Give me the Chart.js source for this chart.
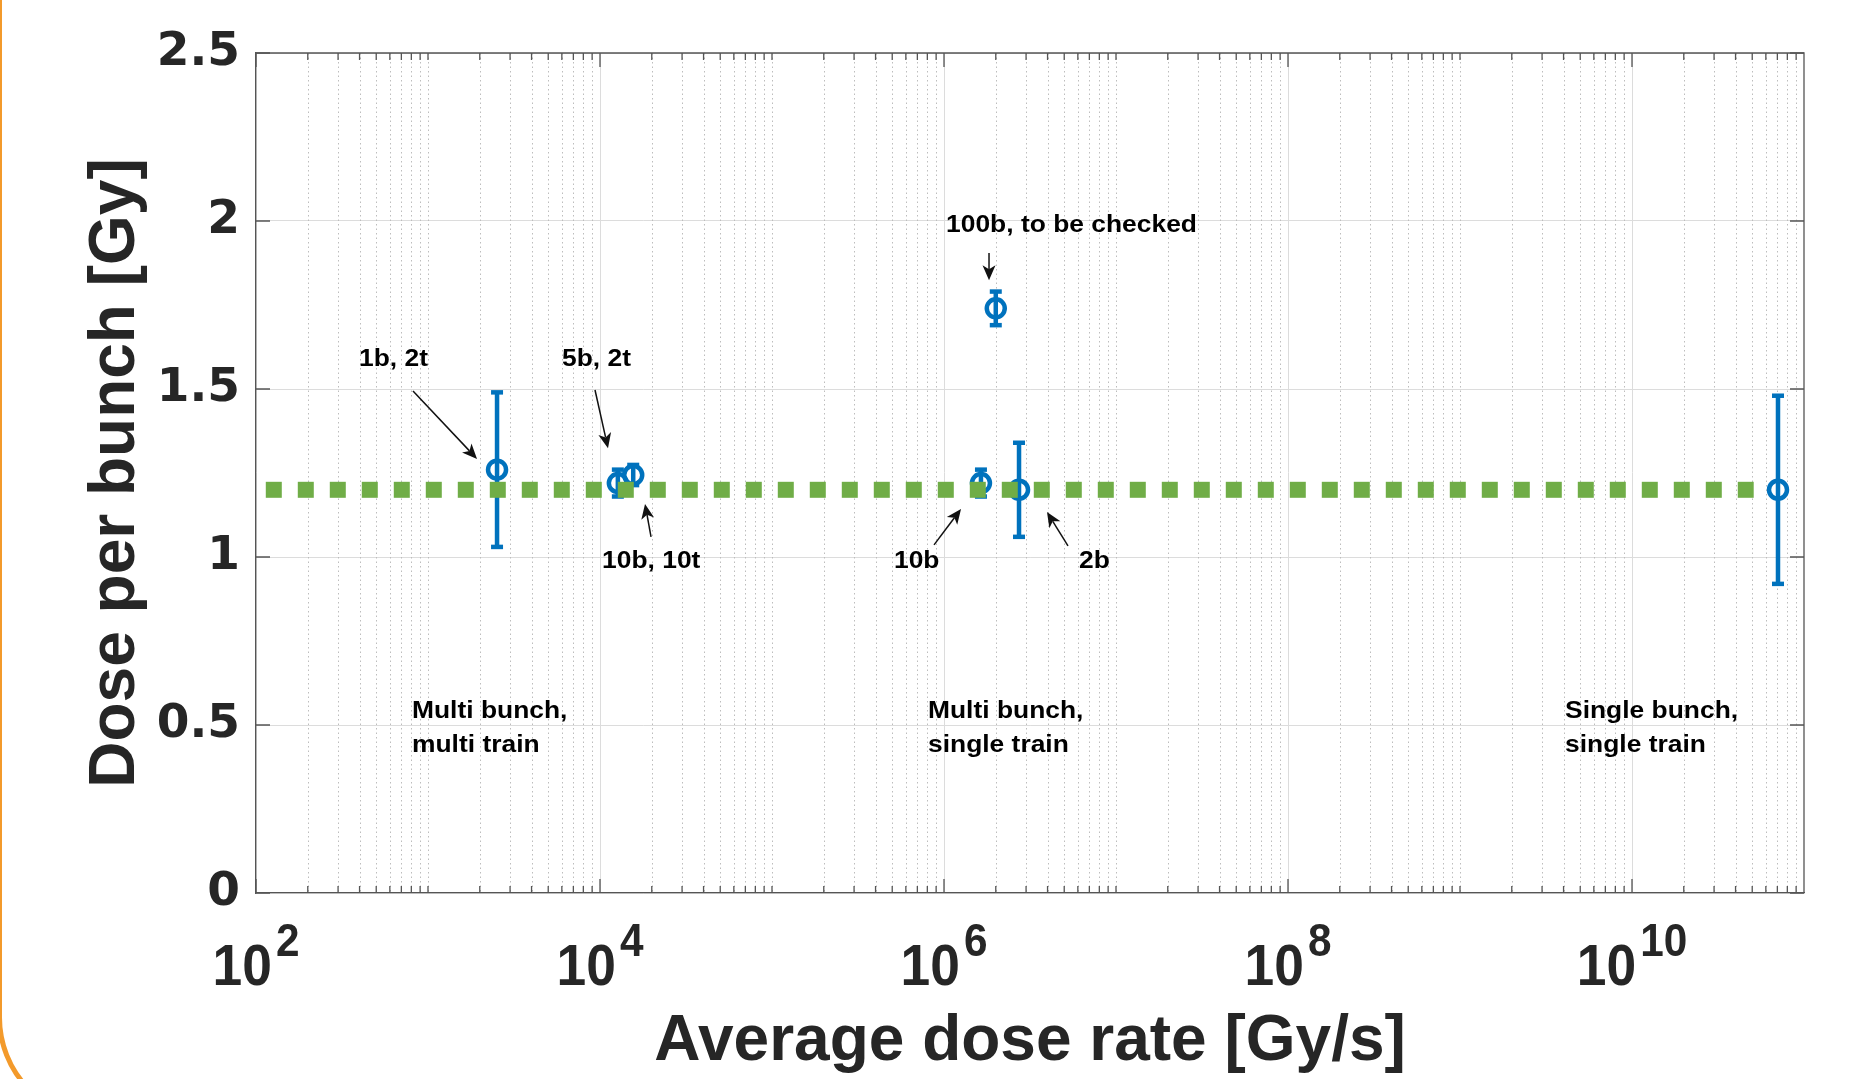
<!DOCTYPE html>
<html>
<head>
<meta charset="utf-8">
<script src="https://cdn.jsdelivr.net/npm/chart.js@4.4.1/dist/chart.umd.min.js"></script>
<style>
  html, body { margin: 0; padding: 0; background: #fff; overflow: hidden; }
  #wrap { position: relative; width: 1851px; height: 1079px; }
  #frame {
    position: absolute; left: -3.5px; top: -300px; width: 2400px; height: 1421.5px;
    box-sizing: border-box; border: 5px solid #f39a2b; border-radius: 104.5px;
    pointer-events: none;
  }
</style>
</head>
<body>
<div id="wrap">
  <canvas id="dose-chart"></canvas>
  <div id="frame"></div>
</div>
<script>
// measured points: average dose rate [Gy/s], dose per bunch [Gy], error bar half-width
const doseRates = [2.52e3, 1.27e4, 1.56e4, 1.64e6, 2.0e6, 2.73e6, 7.06e10];
const dosePerBunch = [1.26, 1.22, 1.244, 1.22, 1.74, 1.2, 1.2];
const doseErrors = [0.23, 0.04, 0.03, 0.04, 0.05, 0.14, 0.28];

// green dashed reference level
const referenceRates = [114, 5.1e10];
const referenceDose = 1.2;

const xTickExponents = [2, 4, 6, 8, 10];
const yTickValues = [0, 0.5, 1, 1.5, 2, 2.5];

// annotations, in data coordinates (text anchored at left / baseline)
const pointLabels = [
  { lines: ['1b, 2t'], x: 397, y: 1.568 },
  { lines: ['5b, 2t'], x: 6010, y: 1.568 },
  { lines: ['10b, 10t'], x: 1.028e4, y: 0.967 },
  { lines: ['100b, to be checked'], x: 1.028e6, y: 1.967 },
  { lines: ['10b'], x: 5.12e5, y: 0.967 },
  { lines: ['2b'], x: 6.1e6, y: 0.967 }
];
const regionLabels = [
  { lines: ['Multi bunch,', 'multi train'], x: 807, y: 0.521 },
  { lines: ['Multi bunch,', 'single train'], x: 8.07e5, y: 0.521 },
  { lines: ['Single bunch,', 'single train'], x: 4.08e9, y: 0.521 }
];
const arrows = [
  { from: [818, 1.494], to: [1928, 1.292] },
  { from: [9354, 1.497], to: [1.113e4, 1.324] },
  { from: [1.98e4, 1.06], to: [1.827e4, 1.158] },
  { from: [1.827e6, 1.905], to: [1.827e6, 1.824] },
  { from: [8.75e5, 1.036], to: [1.256e6, 1.143] },
  { from: [5.26e6, 1.033], to: [3.97e6, 1.134] }
];

const FONT = '"Liberation Sans", Arial, sans-serif';
const BLUE = '#0072bd';
const GREEN = '#70ad47';
const AXIS_COLOR = '#262626';
const BOX_COLOR = '#555555';

function minorGridValues() {
  const values = [];
  for (let n = 2; n <= 10; n++) {
    for (let m = 1; m <= 9; m++) {
      if (m === 1 && n % 2 === 0) {
        continue;
      }
      values.push(m * Math.pow(10, n));
    }
  }
  return values;
}

function buildErrorBarData() {
  return doseRates.flatMap((rate, i) => [
    { x: rate, y: dosePerBunch[i] - doseErrors[i] },
    { x: rate, y: dosePerBunch[i] + doseErrors[i] },
    { x: rate, y: null }
  ]);
}

function drawText(ctx, lines, px, py, size, stretch, lineGap) {
  ctx.save();
  ctx.font = `bold ${size}px ${FONT}`;
  ctx.fillStyle = '#000';
  ctx.textAlign = 'left';
  ctx.textBaseline = 'alphabetic';
  lines.forEach((line, i) => {
    ctx.save();
    ctx.translate(px, py + i * lineGap);
    ctx.scale(stretch, 1);
    ctx.fillText(line, 0, 0);
    ctx.restore();
  });
  ctx.restore();
}

function drawArrow(ctx, x1, y1, x2, y2) {
  const angle = Math.atan2(y2 - y1, x2 - x1);
  const cos = Math.cos(angle);
  const sin = Math.sin(angle);
  const headLength = 15;
  const halfWidth = 6.5;
  const notch = 11;

  ctx.save();
  ctx.strokeStyle = '#111';
  ctx.fillStyle = '#111';
  ctx.lineWidth = 1.5;
  ctx.beginPath();
  ctx.moveTo(x1, y1);
  ctx.lineTo(x2 - notch * cos, y2 - notch * sin);
  ctx.stroke();

  ctx.beginPath();
  ctx.moveTo(x2, y2);
  ctx.lineTo(x2 - headLength * cos + halfWidth * sin, y2 - headLength * sin - halfWidth * cos);
  ctx.lineTo(x2 - notch * cos, y2 - notch * sin);
  ctx.lineTo(x2 - headLength * cos - halfWidth * sin, y2 - headLength * sin + halfWidth * cos);
  ctx.closePath();
  ctx.fill();
  ctx.restore();
}

const axesDecor = {
  id: 'axesDecor',
  beforeDatasetsDraw(chart) {
    const { ctx, chartArea, scales: { x } } = chart;
    ctx.save();
    ctx.beginPath();
    ctx.rect(chartArea.left, chartArea.top, chartArea.right - chartArea.left, chartArea.bottom - chartArea.top);
    ctx.clip();
    ctx.strokeStyle = '#bdbdbd';
    ctx.lineWidth = 1;
    ctx.setLineDash([1.5, 3]);
    minorGridValues().forEach((value) => {
      const px = Math.round(x.getPixelForValue(value)) + 0.5;
      ctx.beginPath();
      ctx.moveTo(px, chartArea.top);
      ctx.lineTo(px, chartArea.bottom);
      ctx.stroke();
    });
    ctx.restore();
  },
  afterDatasetsDraw(chart) {
    const { ctx, scales: { x, y } } = chart;

    arrows.forEach(({ from, to }) => {
      drawArrow(ctx,
        x.getPixelForValue(from[0]), y.getPixelForValue(from[1]),
        x.getPixelForValue(to[0]), y.getPixelForValue(to[1]));
    });

    pointLabels.forEach((label) => {
      drawText(ctx, label.lines, x.getPixelForValue(label.x), y.getPixelForValue(label.y), 24, 1.1, 34);
    });

    regionLabels.forEach((label) => {
      drawText(ctx, label.lines, x.getPixelForValue(label.x), y.getPixelForValue(label.y), 24, 1.1, 34);
    });
  },
  afterDraw(chart) {
    const { ctx, chartArea, scales: { x, y } } = chart;
    const { left, right, top, bottom } = chartArea;

    ctx.save();
    ctx.strokeStyle = BOX_COLOR;
    ctx.lineWidth = 1.3;

    // top and right edges of the box
    ctx.beginPath();
    ctx.moveTo(left, top);
    ctx.lineTo(right, top);
    ctx.lineTo(right, bottom);
    ctx.stroke();

    // inward tick marks
    ctx.beginPath();
    yTickValues.forEach((value) => {
      const py = y.getPixelForValue(value);
      ctx.moveTo(left, py);
      ctx.lineTo(left + 14, py);
      ctx.moveTo(right - 14, py);
      ctx.lineTo(right, py);
    });
    xTickExponents.forEach((exp) => {
      const px = x.getPixelForValue(Math.pow(10, exp));
      ctx.moveTo(px, bottom);
      ctx.lineTo(px, bottom - 14);
      ctx.moveTo(px, top);
      ctx.lineTo(px, top + 14);
    });
    minorGridValues().forEach((value) => {
      const px = x.getPixelForValue(value);
      ctx.moveTo(px, bottom);
      ctx.lineTo(px, bottom - 7);
      ctx.moveTo(px, top);
      ctx.lineTo(px, top + 7);
    });
    ctx.stroke();
    ctx.restore();

    // x tick labels as 10 with a raised exponent
    ctx.save();
    ctx.fillStyle = AXIS_COLOR;
    ctx.textAlign = 'left';
    ctx.textBaseline = 'alphabetic';
    const stretch = 0.92;
    xTickExponents.forEach((exp) => {
      const px = x.getPixelForValue(Math.pow(10, exp));
      ctx.font = `bold 58px ${FONT}`;
      const baseWidth = ctx.measureText('10').width * stretch;
      ctx.font = `bold 46px ${FONT}`;
      const expWidth = ctx.measureText(String(exp)).width * stretch;
      const start = px - (baseWidth + 4 + expWidth) / 2;

      ctx.save();
      ctx.font = `bold 58px ${FONT}`;
      ctx.translate(start, 985);
      ctx.scale(stretch, 1);
      ctx.fillText('10', 0, 0);
      ctx.restore();

      ctx.save();
      ctx.font = `bold 46px ${FONT}`;
      ctx.translate(start + baseWidth + 4, 956);
      ctx.scale(stretch, 1);
      ctx.fillText(String(exp), 0, 0);
      ctx.restore();
    });
    ctx.restore();
  }
};

new Chart(document.getElementById('dose-chart'), {
  type: 'scatter',
  data: {
    datasets: [
      {
        type: 'line',
        label: 'reference',
        data: referenceRates.map((rate) => ({ x: rate, y: referenceDose })),
        borderColor: GREEN,
        borderWidth: 16,
        borderDash: [16, 16],
        borderCapStyle: 'butt',
        pointRadius: 0,
        fill: false
      },
      {
        label: 'measured',
        data: doseRates.map((rate, i) => ({ x: rate, y: dosePerBunch[i] })),
        pointStyle: 'circle',
        pointRadius: 9,
        pointBorderWidth: 4.5,
        pointBorderColor: BLUE,
        pointBackgroundColor: 'rgba(0,0,0,0)'
      },
      {
        type: 'line',
        label: 'error',
        data: buildErrorBarData(),
        borderColor: BLUE,
        borderWidth: 4.5,
        spanGaps: false,
        tension: 0,
        fill: false,
        pointStyle: 'line',
        pointRadius: 6,
        pointBorderWidth: 4.5,
        pointBorderColor: BLUE
      }
    ]
  },
  options: {
    responsive: true,
    maintainAspectRatio: false,
    animation: false,
    events: [],
    layout: {
      padding: { left: 0, top: 53, right: 47, bottom: 0 }
    },
    plugins: {
      legend: { display: false },
      tooltip: { enabled: false }
    },
    scales: {
      x: {
        type: 'logarithmic',
        min: 1e2,
        max: 1e11,
        afterBuildTicks: (axis) => {
          axis.ticks = xTickExponents.map((exp) => ({ value: Math.pow(10, exp) }));
        },
        afterFit: (axis) => {
          axis.height = 186;
        },
        ticks: { display: false },
        grid: { color: '#dcdcdc', lineWidth: 1, drawTicks: false },
        border: { display: true, color: BOX_COLOR, width: 1.3 },
        title: {
          display: true,
          text: 'Average dose rate [Gy/s]',
          color: AXIS_COLOR,
          font: { family: FONT, size: 64, weight: 'bold', lineHeight: 1.16 },
          padding: 0
        }
      },
      y: {
        type: 'linear',
        min: 0,
        max: 2.5,
        afterBuildTicks: (axis) => {
          axis.ticks = yTickValues.map((value) => ({ value }));
        },
        afterFit: (axis) => {
          axis.width = 256;
        },
        ticks: {
          color: AXIS_COLOR,
          padding: 16,
          font: { family: '"DejaVu Sans", Verdana, sans-serif', size: 47, weight: 'bold' },
          callback: (value) => String(value)
        },
        grid: { color: '#dcdcdc', lineWidth: 1, drawTicks: false },
        border: { display: true, color: BOX_COLOR, width: 1.3 },
        title: {
          display: true,
          text: 'Dose per bunch [Gy]',
          color: AXIS_COLOR,
          font: { family: FONT, size: 64, weight: 'bold', lineHeight: 1.2 },
          padding: { top: 78, bottom: 0 }
        }
      }
    }
  },
  plugins: [axesDecor]
});
</script>
</body>
</html>
